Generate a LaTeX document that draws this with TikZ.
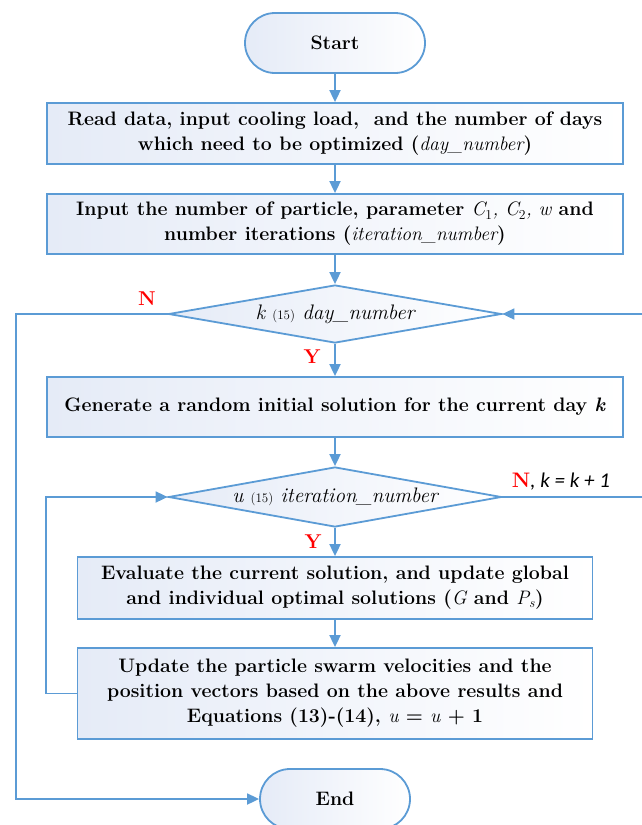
\documentclass[tikz,border=0pt]{standalone}
\usepackage{fontspec}
\newfontfamily\calib{Carlito}
\usetikzlibrary{arrows.meta,shapes.geometric}
\definecolor{lineblue}{RGB}{91,155,213}
\definecolor{fillblue}{RGB}{229,235,247}
\newcommand\iv[1]{{\mdseries\itshape #1}}
\newcommand\lefff{{\mdseries\upshape\fontsize{13}{13}\selectfont(15)}}
\begin{document}
\begin{tikzpicture}[x=1pt,y=-1pt,
 base/.style={draw=lineblue,line width=1.8pt,left color=fillblue,right color=white,
   font=\bfseries\fontsize{19.5}{25}\selectfont,align=center,inner sep=0pt},
 stadium/.style={base,rounded corners=30pt},
 procbox/.style={base,rectangle},
 decision/.style={base,diamond,font=\itshape\fontsize{21}{24}\selectfont},
 flow/.style={draw=lineblue,line width=1.8pt,-{Triangle[length=12pt,width=11pt]}},
 lab/.style={text=red,font=\bfseries\fontsize{20}{20}\selectfont}
]
\useasboundingbox (0,0) rectangle (641,825);

\node[stadium,minimum width=180pt,minimum height=60pt] (start) at (335,43) {Start};
\node[procbox,minimum width=576pt,minimum height=61pt] (b1) at (335,133.5)
  {Read data, input cooling load,\ \ and the number of days\\which need to be optimized (\iv{day\_number})};
\node[procbox,minimum width=576pt,minimum height=60pt] (b2) at (335,224)
  {Input the number of particle, parameter \iv{C}\textsubscript{\mdseries1}\iv{, C}\textsubscript{\mdseries2}\iv{, w} and\\number iterations (\iv{iteration\_number})};
\node[decision,minimum width=333pt,minimum height=58pt,aspect=5.7] (d1) at (335,314)
  {\iv{k} \lefff{} \iv{day\_number}};
\node[procbox,minimum width=576pt,minimum height=60pt] (b3) at (335,407)
  {Generate a random initial solution for the current day \textit{k}};
\node[decision,minimum width=333pt,minimum height=60pt,aspect=5.7] (d2) at (335,497)
  {\iv{u} \lefff{} \iv{iteration\_number}};
\node[procbox,minimum width=515pt,minimum height=62pt] (b4) at (335,588)
  {Evaluate the current solution, and update global\\and individual optimal solutions (\iv{G} and \iv{P}\textsubscript{\iv{s}})};
\node[procbox,minimum width=515pt,minimum height=91pt] (b5) at (335,693.5)
  {Update the particle swarm velocities and the\\position vectors based on the above results and\\Equations (13)-(14), \iv{u} = \iv{u} + 1};
\node[stadium,minimum width=150pt,minimum height=60pt] (end) at (335,799) {End};

\coordinate (outerL) at (16,799);
\coordinate (outerR) at (644,314);
\coordinate (innerL) at (46,497);

\draw[flow] (start.south) -- (b1.north);
\draw[flow] (b1.south) -- (b2.north);
\draw[flow] (b2.south) -- (d1.north);
\draw[flow] (d1.south) -- (b3.north);
\draw[flow] (b3.south) -- (d2.north);
\draw[flow] (d2.south) -- (b4.north);
\draw[flow] (b4.south) -- (b5.north);
\draw[flow] (d1.west) -| (outerL) -- (end.west);
\draw[flow] (d2.east) -| (outerR) -- (d1.east);
\draw[flow] (b5.west) -| (innerL) -- (d2.west);

\node[lab] (n1) at (147,299) {N};
\node[lab] (y1) at (312,357) {Y};
\node[lab] (y2) at (313,542) {Y};
\node[font=\fontsize{21}{21}\selectfont] (n2) at (561,482)
  {\textcolor{red}{\bfseries N}{\calib\itshape, k = k + 1}};
\end{tikzpicture}
\end{document}
